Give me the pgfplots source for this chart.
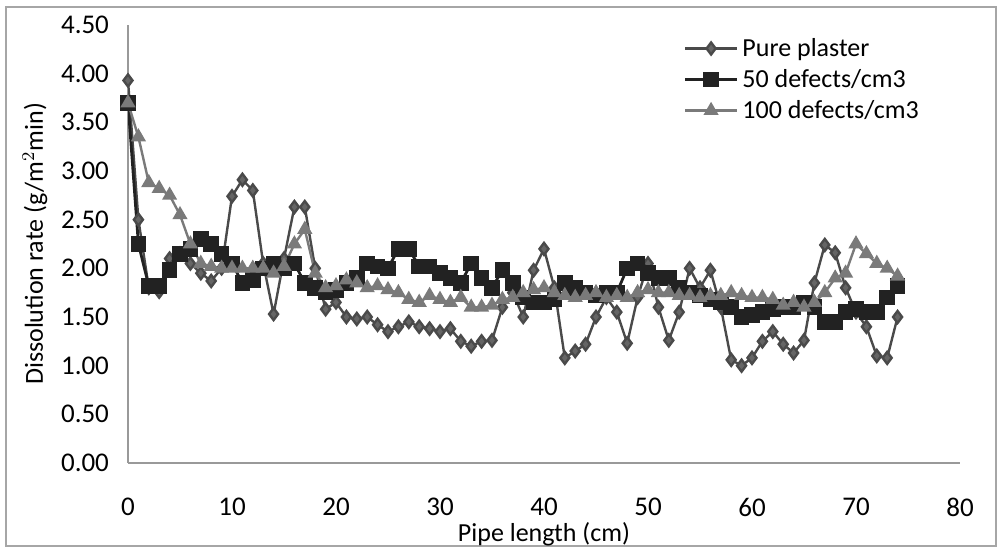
\documentclass[border=0pt]{standalone}
\usepackage{pgfplots}
\pgfplotsset{compat=1.18}
\usepackage{fontspec}
\setmainfont{Carlito}
\definecolor{cPure}{HTML}{4A4A4A}
\definecolor{cFifty}{HTML}{222222}
\definecolor{cHund}{HTML}{7A7A7A}
\begin{document}
\begin{tikzpicture}
\path[use as bounding box] (0,0) rectangle (499.5pt,274.5pt);
\draw[gray!70, line width=0.6pt] (3pt,1.5pt) rectangle (498pt,271pt);
\begin{axis}[
  at={(64pt,43pt)}, anchor=south west,
  scale only axis, width=416pt, height=219pt,
  xmin=0, xmax=80, ymin=0, ymax=4.5,
  xtick={0,10,...,80}, ytick={0,0.5,...,4.5},
  axis x line=bottom, axis y line=left,
  axis line style={-, gray!80, line width=0.6pt},
  major tick length=0pt,
  tick label style={font=\fontsize{13.5}{15}\selectfont, black},
  /pgf/number format/assume math mode=true,
  yticklabel style={/pgf/number format/fixed, /pgf/number format/fixed zerofill, /pgf/number format/precision=2, xshift=-6pt},
  xticklabel style={/pgf/number format/fixed, /pgf/number format/precision=0, yshift=-14pt},
  xlabel={Pipe length (cm)},
  ylabel={Dissolution rate (g/m$^{2}$min)},
  label style={font=\fontsize{13}{15}\selectfont},
  xlabel style={yshift=4pt},
  ylabel style={yshift=0pt},
  legend style={draw=none, fill=none, at={(0.665,0.985)}, anchor=north west,
    font=\fontsize{13}{15}\selectfont, row sep=1pt, inner sep=1pt},
  legend cell align=left,
  legend image code/.code={\draw[#1] (0pt,0pt) -- (26pt,0pt); \draw[#1, only marks] plot coordinates {(13pt,0pt)};},
]
\addplot[cPure, line width=1.2pt, mark=diamond*, mark size=3pt, mark options={fill=cPure!85, draw=cPure}] coordinates {
(0,3.93)(1,2.50)(2,1.80)(3,1.76)(4,2.10)(5,2.15)(6,2.05)(7,1.95)(8,1.87)(9,2.00)
(10,2.74)(11,2.91)(12,2.80)(13,2.05)(14,1.53)(15,2.10)(16,2.63)(17,2.63)(18,2.00)(19,1.58)
(20,1.65)(21,1.50)(22,1.48)(23,1.50)(24,1.42)(25,1.35)(26,1.40)(27,1.45)(28,1.40)(29,1.38)
(30,1.35)(31,1.38)(32,1.25)(33,1.20)(34,1.25)(35,1.26)(36,1.60)(37,1.75)(38,1.50)(39,1.98)
(40,2.20)(41,1.80)(42,1.08)(43,1.15)(44,1.22)(45,1.50)(46,1.70)(47,1.55)(48,1.23)(49,1.70)
(50,2.05)(51,1.60)(52,1.26)(53,1.55)(54,2.00)(55,1.80)(56,1.98)(57,1.60)(58,1.06)(59,1.00)
(60,1.08)(61,1.25)(62,1.35)(63,1.22)(64,1.13)(65,1.26)(66,1.85)(67,2.24)(68,2.16)(69,1.80)
(70,1.55)(71,1.40)(72,1.10)(73,1.08)(74,1.50)
};
\addlegendentry{Pure plaster}
\addplot[cFifty, line width=1.4pt, mark=square*, mark size=3.2pt, mark options={fill=cFifty, draw=cFifty}] coordinates {
(0,3.70)(1,2.25)(2,1.82)(3,1.82)(4,1.98)(5,2.15)(6,2.20)(7,2.30)(8,2.25)(9,2.15)
(10,2.05)(11,1.85)(12,1.88)(13,2.00)(14,2.05)(15,2.00)(16,2.05)(17,1.85)(18,1.80)(19,1.75)
(20,1.78)(21,1.85)(22,1.90)(23,2.05)(24,2.02)(25,2.00)(26,2.20)(27,2.20)(28,2.02)(29,2.02)
(30,1.95)(31,1.90)(32,1.85)(33,2.05)(34,1.90)(35,1.80)(36,1.98)(37,1.85)(38,1.70)(39,1.65)
(40,1.65)(41,1.68)(42,1.85)(43,1.80)(44,1.75)(45,1.72)(46,1.75)(47,1.75)(48,2.00)(49,2.05)
(50,1.95)(51,1.90)(52,1.90)(53,1.80)(54,1.75)(55,1.72)(56,1.68)(57,1.65)(58,1.60)(59,1.50)
(60,1.52)(61,1.55)(62,1.58)(63,1.60)(64,1.60)(65,1.65)(66,1.60)(67,1.45)(68,1.45)(69,1.55)
(70,1.58)(71,1.55)(72,1.55)(73,1.70)(74,1.82)
};
\addlegendentry{50 defects/cm3}
\addplot[cHund, line width=1.2pt, mark=triangle*, mark size=3.2pt, mark options={fill=cHund, draw=cHund}] coordinates {
(0,3.70)(1,3.35)(2,2.88)(3,2.82)(4,2.75)(5,2.55)(6,2.25)(7,2.05)(8,2.02)(9,2.00)
(10,2.00)(11,2.00)(12,2.00)(13,2.00)(14,1.95)(15,2.02)(16,2.25)(17,2.40)(18,1.95)(19,1.80)
(20,1.82)(21,1.88)(22,1.85)(23,1.80)(24,1.82)(25,1.78)(26,1.75)(27,1.68)(28,1.65)(29,1.72)
(30,1.68)(31,1.65)(32,1.70)(33,1.60)(34,1.60)(35,1.62)(36,1.68)(37,1.70)(38,1.75)(39,1.78)
(40,1.80)(41,1.75)(42,1.72)(43,1.70)(44,1.72)(45,1.75)(46,1.70)(47,1.72)(48,1.70)(49,1.75)
(50,1.78)(51,1.75)(52,1.75)(53,1.72)(54,1.72)(55,1.70)(56,1.72)(57,1.72)(58,1.75)(59,1.72)
(60,1.70)(61,1.70)(62,1.68)(63,1.62)(64,1.65)(65,1.60)(66,1.65)(67,1.75)(68,1.90)(69,1.95)
(70,2.25)(71,2.15)(72,2.05)(73,2.00)(74,1.92)
};
\addlegendentry{100 defects/cm3}
\end{axis}
\end{tikzpicture}
\end{document}
